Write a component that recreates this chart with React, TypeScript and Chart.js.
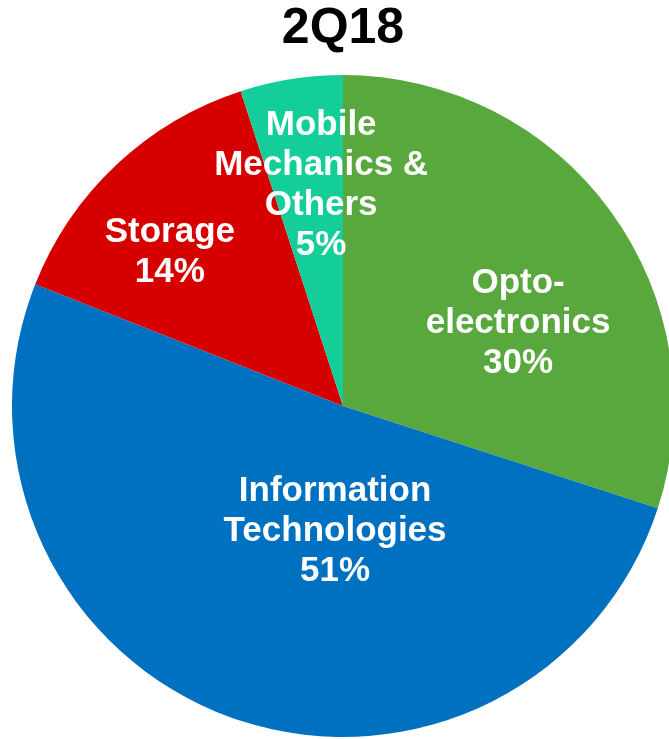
import React, { useEffect, useRef } from "react";
import { Chart, registerables } from "chart.js";

Chart.register(...registerables);

const categories = ["Opto-electronics", "Information Technologies", "Storage", "Mobile Mechanics & Others"];
const shares = [30, 51, 14, 5];
const labelLines = [
  ["Opto-", "electronics", "30%"],
  ["Information", "Technologies", "51%"],
  ["Storage", "14%"],
  ["Mobile", "Mechanics &", "Others", "5%"],
];
const colors = ["#59A83E", "#0070C0", "#D70000", "#14CE9A"];
const titleText = "2Q18";

// label placement: offset from pie centre, in units of pie radius
const labelOffsets = [
  [0.529, -0.251],
  [-0.024, 0.378],
  [-0.523, -0.465],
  [-0.066, -0.668],
];

const labelPlugin = {
  id: "sliceLabels",
  afterDatasetsDraw(chart: any) {
    const meta = chart.getDatasetMeta(0);
    const ctx = chart.ctx;
    ctx.save();
    ctx.fillStyle = "#FFFFFF";
    ctx.font = "bold 35px 'Liberation Sans', Arial, sans-serif";
    ctx.textAlign = "center";
    ctx.textBaseline = "middle";
    const lh = 40;
    meta.data.forEach((arc: any, i: number) => {
      const r = arc.outerRadius;
      const cx = arc.x + labelOffsets[i][0] * r;
      const cy = arc.y + labelOffsets[i][1] * r;
      const lines = labelLines[i];
      const top = cy - ((lines.length - 1) * lh) / 2;
      lines.forEach((t, j) => ctx.fillText(t, cx, top + j * lh));
    });
    ctx.restore();
  },
};

export default function App() {
  const ref = useRef<HTMLCanvasElement>(null);
  useEffect(() => {
    document.body.style.margin = "0";
    const chart = new Chart(ref.current as HTMLCanvasElement, {
      type: "pie",
      data: {
        labels: categories,
        datasets: [
          {
            data: shares,
            backgroundColor: colors,
            borderWidth: 0,
          },
        ],
      },
      options: {
        animation: false,
        responsive: false,
        devicePixelRatio: 1,
        layout: { padding: { top: 0, bottom: 2, left: 0, right: 0 } },
        plugins: {
          legend: { display: false },
          tooltip: { enabled: false },
          title: {
            display: true,
            text: titleText,
            color: "#000000",
            font: { family: "'Liberation Sans', Arial, sans-serif", size: 50, weight: "bold", lineHeight: 1 },
            padding: { top: 4, bottom: 21 },
          },
        },
      },
      plugins: [labelPlugin],
    });
    return () => chart.destroy();
  }, []);
  return (
    <div style={{ width: 669, height: 739, overflow: "hidden", position: "relative", background: "#fff" }}>
      <canvas ref={ref} width={686} height={739} style={{ width: 686, height: 739, display: "block" }} />
    </div>
  );
}
